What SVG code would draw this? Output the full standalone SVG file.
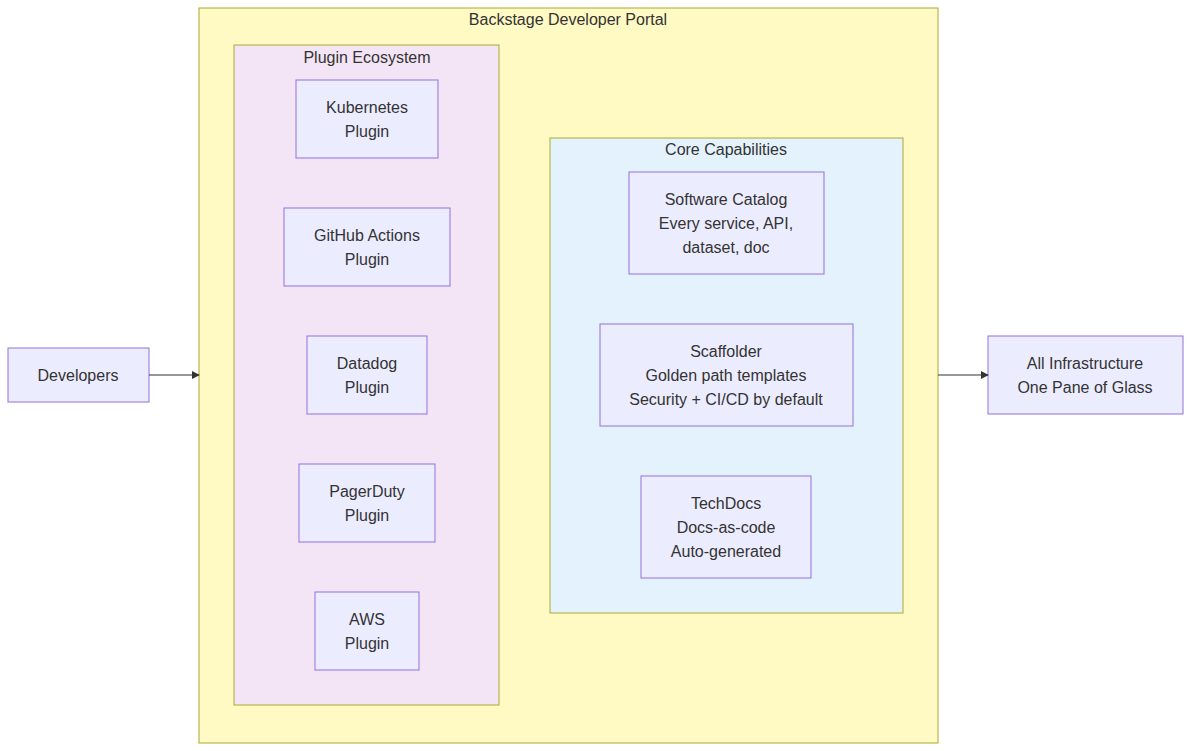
<svg xmlns="http://www.w3.org/2000/svg" width="1191" height="751" viewBox="0 0 1191 751">
<style>
.n{fill:#ECECFF;stroke:#9370DB;stroke-width:1}
.c{stroke:#aaaa33;stroke-width:1}
text{font-family:"Liberation Sans",Arial,sans-serif;font-size:16px;fill:#333;text-anchor:middle}
.e{stroke:#333;stroke-width:1;fill:none;marker-end:url(#a)}
</style>
<defs><marker id="a" viewBox="0 0 10 10" refX="9" refY="5" markerWidth="8" markerHeight="8" orient="auto"><path d="M0,0L10,5L0,10z" fill="#333"/></marker></defs>
<rect width="1191" height="751" fill="#fff"/>
<g id="portal"><rect class="c" x="199" y="8" width="739" height="735" fill="#FFF9C4"/><text x="568" y="25">Backstage Developer Portal</text></g>
<g id="plugins"><rect class="c" x="234" y="45" width="265" height="660" fill="#F3E5F5"/><text x="367" y="63">Plugin Ecosystem</text></g>
<g id="core"><rect class="c" x="550" y="138" width="353" height="475" fill="#E3F2FD"/><text x="726" y="155">Core Capabilities</text></g>
<g id="dev"><rect class="n" x="8" y="348" width="141" height="54"/><text x="78" y="381">Developers</text></g>
<g id="k8s"><rect class="n" x="296" y="80" width="142" height="78"/><text x="367" y="113">Kubernetes</text><text x="367" y="137">Plugin</text></g>
<g id="gha"><rect class="n" x="284" y="208" width="166" height="78"/><text x="367" y="241">GitHub Actions</text><text x="367" y="265">Plugin</text></g>
<g id="dd"><rect class="n" x="307" y="336" width="120" height="78"/><text x="367" y="369">Datadog</text><text x="367" y="393">Plugin</text></g>
<g id="pd"><rect class="n" x="299" y="464" width="136" height="78"/><text x="367" y="497">PagerDuty</text><text x="367" y="521">Plugin</text></g>
<g id="aws"><rect class="n" x="315" y="592" width="104" height="78"/><text x="367" y="625">AWS</text><text x="367" y="649">Plugin</text></g>
<g id="cat"><rect class="n" x="629" y="172" width="195" height="102"/><text x="726" y="205">Software Catalog</text><text x="726" y="229">Every service, API,</text><text x="726" y="253">dataset, doc</text></g>
<g id="scaf"><rect class="n" x="600" y="324" width="253" height="102"/><text x="726" y="357">Scaffolder</text><text x="726" y="381">Golden path templates</text><text x="726" y="405">Security + CI/CD by default</text></g>
<g id="td"><rect class="n" x="641" y="476" width="170" height="102"/><text x="726" y="509">TechDocs</text><text x="726" y="533">Docs-as-code</text><text x="726" y="557">Auto-generated</text></g>
<g id="infra"><rect class="n" x="988" y="336" width="195" height="78"/><text x="1085" y="369">All Infrastructure</text><text x="1085" y="393">One Pane of Glass</text></g>
<g id="edges"><path class="e" d="M149,375H199"/><path class="e" d="M938,375H988"/></g>
</svg>
